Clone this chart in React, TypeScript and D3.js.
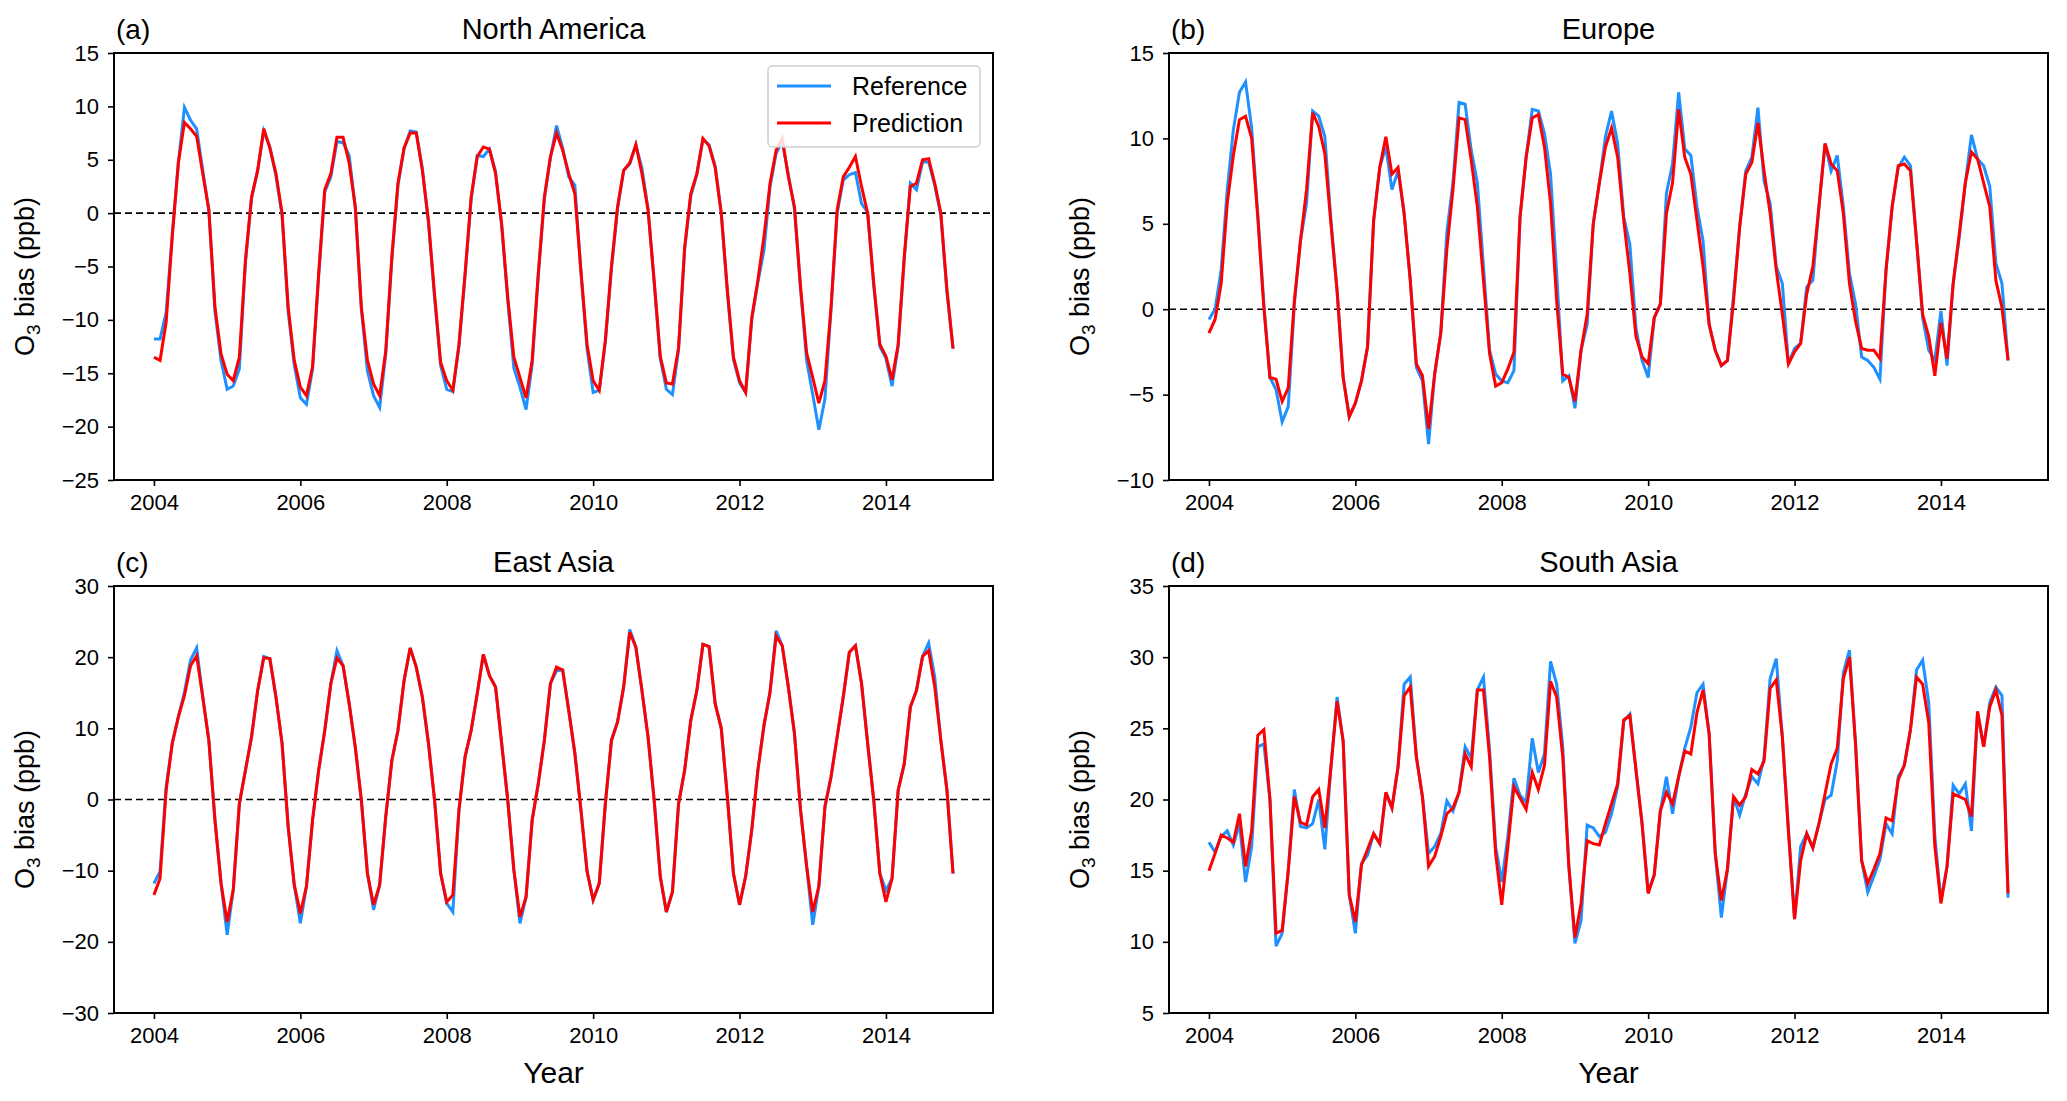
import React, { useEffect, useRef } from 'react';
import * as d3 from 'd3';

// monthly index, Jan 2004 .. Dec 2014
const months = d3.range(132).map(i => 2004 + i / 12);
const yearTicks = [2004, 2006, 2008, 2010, 2012, 2014];

const naRef = [
  -11.8, -11.8, -9.3, -2.0, 4.7, 9.9, 8.7, 7.9, 4.0, 0.3, -9.2, -13.8,
  -16.5, -16.2, -14.6, -4.6, 1.4, 4.0, 7.7, 6.2, 3.5, -0.2, -9.2, -14.2,
  -17.3, -17.9, -14.6, -5.9, 2.0, 3.4, 6.7, 6.6, 5.4, 0.6, -9.0, -14.8,
  -17.1, -18.2, -13.2, -4.3, 2.6, 6.0, 7.7, 7.6, 4.2, -0.9, -7.9, -14.3,
  -16.5, -16.7, -12.5, -5.9, 1.3, 5.4, 5.3, 6.0, 3.9, -1.2, -8.2, -14.5,
  -16.3, -18.4, -14.2, -5.9, 1.3, 5.2, 8.2, 6.1, 3.4, 2.6, -5.6, -12.7,
  -16.8, -16.6, -12.1, -5.2, 0.4, 4.0, 4.6, 6.4, 4.2, 0.4, -6.5, -13.6,
  -16.5, -17.0, -12.8, -3.4, 1.6, 3.6, 6.9, 6.4, 4.4, 0.0, -7.4, -13.7,
  -15.9, -16.8, -10.0, -6.5, -3.5, 2.5, 5.6, 6.7, 3.6, 0.4, -7.1, -13.8,
  -17.0, -20.3, -17.4, -9.0, 0.0, 3.1, 3.6, 3.8, 0.9, 0.1, -6.8, -12.5,
  -13.6, -16.2, -12.5, -4.3, 2.8, 2.2, 4.8, 4.8, 2.6, -0.2, -7.4, -12.7,
];
const naPred = [
  -13.5, -13.8, -10.2, -2.2, 4.7, 8.5, 7.9, 7.2, 3.7, 0.3, -8.8, -13.2,
  -15.1, -15.7, -13.5, -4.4, 1.5, 4.0, 7.9, 6.1, 3.7, 0.0, -8.8, -13.8,
  -16.3, -17.1, -14.4, -5.7, 2.2, 3.7, 7.1, 7.1, 4.7, 0.6, -8.8, -13.8,
  -16.0, -17.1, -12.9, -4.1, 2.8, 6.1, 7.5, 7.5, 4.0, -0.7, -7.6, -14.0,
  -15.7, -16.6, -12.3, -5.7, 1.5, 5.3, 6.2, 6.0, 3.7, -1.0, -7.9, -13.5,
  -15.4, -17.3, -13.8, -5.7, 1.5, 5.3, 7.5, 5.9, 3.7, 1.8, -5.4, -12.3,
  -15.7, -16.6, -11.9, -5.0, 0.6, 4.0, 4.7, 6.4, 3.7, 0.3, -6.3, -13.4,
  -15.9, -16.0, -12.6, -3.2, 1.8, 3.7, 7.0, 6.3, 4.3, 0.0, -7.2, -13.5,
  -15.7, -16.8, -9.8, -6.3, -2.2, 2.8, 5.9, 7.0, 3.4, 0.6, -6.9, -13.1,
  -15.4, -17.8, -15.7, -8.8, 0.3, 3.4, 4.3, 5.3, 2.5, 0.0, -6.6, -12.3,
  -13.4, -15.6, -12.3, -4.1, 2.5, 2.8, 5.0, 5.1, 2.8, 0.0, -7.2, -12.7,
];

const euRef = [
  -0.6, 0.0, 2.3, 7.0, 10.5, 12.7, 13.3, 10.6, 5.6, 0.3, -4.0, -4.7,
  -6.6, -5.7, 0.3, 4.0, 6.2, 11.6, 11.3, 10.1, 5.2, 1.1, -4.0, -6.3,
  -5.5, -4.2, -2.2, 5.2, 8.3, 9.5, 7.0, 8.1, 5.6, 1.7, -3.4, -4.2,
  -7.9, -3.8, -1.4, 4.5, 7.4, 12.1, 12.0, 9.3, 7.4, 2.5, -2.4, -3.8,
  -4.2, -4.3, -3.6, 5.4, 8.9, 11.7, 11.6, 10.3, 7.9, 2.1, -4.2, -3.9,
  -5.8, -2.4, -0.9, 5.0, 7.4, 10.1, 11.6, 9.7, 5.4, 3.8, -1.1, -3.0,
  -4.0, -0.5, 0.3, 6.8, 8.5, 12.7, 9.4, 9.0, 6.0, 4.0, -0.9, -2.4,
  -3.3, -3.0, 0.8, 4.8, 8.1, 8.9, 11.8, 7.5, 6.2, 2.5, 1.5, -3.2,
  -2.3, -2.0, 1.3, 1.7, 6.0, 9.7, 8.1, 9.0, 6.0, 2.1, 0.3, -2.8,
  -3.0, -3.4, -4.1, 2.3, 6.0, 8.3, 8.9, 8.4, 4.0, -0.5, -2.4, -3.0,
  -0.1, -3.3, 1.5, 4.2, 7.4, 10.2, 8.8, 8.4, 7.2, 2.7, 1.5, -3.0,
];
const euPred = [
  -1.4, -0.6, 1.5, 6.2, 9.0, 11.1, 11.3, 10.0, 5.4, 0.1, -4.0, -4.1,
  -5.4, -4.6, 0.5, 4.0, 7.0, 11.5, 10.7, 9.1, 5.0, 1.1, -4.0, -6.3,
  -5.5, -4.2, -2.2, 5.2, 8.3, 10.1, 7.9, 8.3, 5.6, 1.7, -3.2, -3.9,
  -7.0, -3.8, -1.4, 3.5, 7.0, 11.2, 11.1, 8.7, 6.0, 1.7, -2.6, -4.5,
  -4.3, -3.5, -2.5, 5.4, 8.9, 11.2, 11.4, 9.5, 6.2, 0.5, -3.8, -4.0,
  -5.4, -2.4, -0.3, 5.0, 7.4, 9.5, 10.6, 8.9, 5.2, 2.1, -1.6, -2.8,
  -3.2, -0.5, 0.3, 5.6, 7.4, 11.7, 8.9, 7.9, 5.2, 2.5, -0.9, -2.4,
  -3.3, -3.0, 0.5, 4.8, 7.9, 8.6, 10.9, 8.1, 5.6, 2.3, -0.3, -3.2,
  -2.5, -2.0, 0.9, 2.5, 6.0, 9.7, 8.5, 8.1, 5.6, 1.5, -0.7, -2.3,
  -2.4, -2.4, -2.9, 2.3, 6.0, 8.4, 8.5, 8.1, 4.0, -0.3, -1.6, -3.9,
  -0.8, -2.9, 1.5, 4.4, 7.4, 9.2, 8.8, 7.4, 6.0, 1.7, 0.1, -3.0,
];

const eaRef = [
  -11.8, -10.1, 1.8, 7.9, 11.6, 15.1, 19.6, 21.3, 14.4, 8.3, -2.9, -11.8,
  -19.0, -12.7, -0.6, 4.1, 8.8, 15.3, 20.1, 19.8, 14.4, 7.9, -3.8, -12.0,
  -17.4, -12.2, -2.9, 4.1, 9.7, 16.3, 20.9, 18.8, 13.5, 7.4, -0.1, -10.4,
  -15.5, -12.0, -2.4, 5.5, 9.7, 16.7, 21.3, 18.6, 14.4, 7.9, -0.1, -10.4,
  -14.6, -15.8, -1.5, 6.0, 9.7, 14.9, 20.4, 17.4, 15.8, 7.9, -0.1, -9.9,
  -17.4, -13.7, -2.9, 2.2, 8.3, 16.3, 18.1, 18.2, 12.5, 6.5, -1.5, -10.1,
  -14.1, -11.8, -0.6, 8.3, 10.9, 15.8, 23.9, 21.4, 15.3, 8.8, -0.1, -10.8,
  -15.8, -13.0, -0.6, 4.1, 11.1, 15.3, 21.8, 21.5, 13.5, 10.0, 0.4, -10.4,
  -14.8, -10.8, -4.3, 4.1, 10.4, 15.1, 23.7, 21.6, 15.8, 9.3, -1.5, -9.4,
  -17.6, -12.2, -1.0, 3.2, 8.8, 14.4, 20.7, 21.6, 16.3, 7.9, -0.1, -10.4,
  -12.8, -11.1, 1.3, 5.0, 13.0, 15.3, 20.1, 22.0, 17.2, 8.3, 1.3, -10.4,
];
const eaPred = [
  -13.4, -11.1, 1.3, 7.9, 11.6, 14.6, 18.8, 20.2, 14.4, 8.3, -2.9, -11.8,
  -17.2, -12.7, -0.6, 4.1, 8.8, 15.3, 19.9, 19.8, 14.4, 7.9, -3.8, -12.0,
  -16.0, -12.2, -2.9, 4.1, 9.7, 16.3, 19.9, 18.8, 13.5, 7.4, -0.1, -10.4,
  -14.8, -12.0, -2.4, 5.5, 9.7, 16.7, 21.3, 18.6, 14.4, 7.9, -0.1, -10.4,
  -14.4, -13.4, -1.5, 6.0, 9.7, 14.9, 20.4, 17.4, 15.8, 7.9, -0.1, -9.9,
  -16.5, -13.7, -2.9, 2.2, 8.3, 16.3, 18.6, 18.2, 12.5, 6.5, -1.5, -10.1,
  -14.1, -11.8, -0.6, 8.3, 10.9, 15.8, 23.5, 21.4, 15.3, 8.8, -0.1, -10.8,
  -15.8, -13.0, -0.6, 4.1, 11.1, 15.3, 21.8, 21.5, 13.5, 10.0, 0.4, -10.4,
  -14.8, -10.8, -4.3, 4.1, 10.4, 15.1, 23.0, 21.6, 15.8, 9.3, -1.5, -9.4,
  -15.8, -12.2, -1.0, 3.2, 8.8, 14.4, 20.7, 21.6, 16.3, 7.9, -0.1, -10.4,
  -14.4, -11.1, 1.3, 5.0, 13.0, 15.3, 20.1, 20.9, 15.8, 8.3, 1.3, -10.4,
];

const saRef = [
  17.0, 16.3, 17.4, 17.8, 16.8, 18.3, 14.2, 16.7, 23.7, 23.9, 20.0, 9.7,
  10.6, 15.0, 20.7, 18.1, 18.0, 18.3, 20.0, 16.5, 22.3, 27.2, 24.1, 13.3,
  10.6, 15.5, 16.1, 17.6, 16.9, 20.5, 19.4, 22.3, 28.1, 28.6, 23.0, 20.2,
  16.2, 16.7, 17.6, 19.9, 19.2, 20.5, 23.7, 22.9, 27.7, 28.6, 23.5, 16.7,
  14.2, 17.4, 21.5, 20.3, 19.8, 24.3, 21.9, 23.2, 29.7, 28.1, 23.7, 15.3,
  9.9, 11.5, 18.2, 18.0, 17.4, 17.7, 19.0, 20.9, 25.5, 26.0, 22.1, 18.3,
  13.5, 14.7, 19.2, 21.6, 19.0, 21.6, 23.6, 25.1, 27.5, 28.1, 24.6, 16.2,
  11.7, 15.1, 20.2, 18.9, 20.4, 21.6, 21.1, 22.9, 28.5, 29.9, 24.4, 17.8,
  11.6, 16.7, 17.6, 16.6, 18.3, 20.0, 20.3, 22.7, 28.9, 30.5, 23.9, 15.7,
  13.5, 14.6, 15.8, 18.3, 17.6, 21.6, 22.4, 24.9, 29.1, 29.8, 26.8, 17.4,
  12.9, 15.3, 21.0, 20.4, 21.1, 17.8, 26.1, 23.7, 26.8, 27.9, 27.3, 13.1,
];
const saPred = [
  15.0, 16.2, 17.5, 17.3, 17.0, 19.0, 15.3, 17.8, 24.5, 24.9, 20.0, 10.6,
  10.8, 15.0, 20.2, 18.4, 18.2, 20.2, 20.7, 18.0, 22.3, 26.9, 24.1, 13.3,
  11.4, 15.4, 16.5, 17.6, 16.9, 20.5, 19.4, 22.3, 27.3, 27.9, 23.0, 20.2,
  15.3, 16.0, 17.4, 19.0, 19.4, 20.5, 23.2, 22.3, 27.7, 27.7, 23.0, 16.2,
  12.6, 16.7, 20.9, 20.1, 19.3, 21.9, 20.7, 22.4, 28.3, 27.2, 23.0, 15.3,
  10.3, 12.7, 17.1, 16.9, 16.8, 18.3, 19.7, 21.1, 25.6, 25.9, 22.1, 18.3,
  13.4, 14.7, 19.2, 20.5, 19.7, 21.6, 23.4, 23.2, 26.1, 27.7, 24.6, 16.2,
  12.9, 15.1, 20.2, 19.6, 20.2, 22.1, 21.8, 22.7, 27.8, 28.4, 24.4, 17.8,
  11.6, 15.7, 17.6, 16.6, 18.3, 20.4, 22.5, 23.6, 28.5, 30.0, 23.9, 15.7,
  14.1, 15.1, 16.2, 18.7, 18.5, 21.4, 22.4, 24.9, 28.6, 28.1, 25.4, 16.7,
  12.7, 15.3, 20.4, 20.2, 20.0, 18.8, 26.2, 23.7, 26.5, 27.7, 25.9, 13.4,
];

const naTicks = [-25, -20, -15, -10, -5, 0, 5, 10, 15];
const euTicks = [-10, -5, 0, 5, 10, 15];
const eaTicks = [-30, -20, -10, 0, 10, 20, 30];
const saTicks = [5, 10, 15, 20, 25, 30, 35];

const FONT = '"Liberation Sans", Arial, Helvetica, sans-serif';
const REF_COLOR = '#1e90ff';
const PRED_COLOR = '#ff0000';

type PanelSpec = {
  tag: string;
  title: string;
  ref: number[];
  pred: number[];
  ticks: number[];
  left: number;
  top: number;
  legend: boolean;
  xlabel: boolean;
};

const panels: PanelSpec[] = [
  { tag: '(a)', title: 'North America', ref: naRef, pred: naPred, ticks: naTicks, left: 114, top: 53, legend: true, xlabel: false },
  { tag: '(b)', title: 'Europe', ref: euRef, pred: euPred, ticks: euTicks, left: 1169, top: 53, legend: false, xlabel: false },
  { tag: '(c)', title: 'East Asia', ref: eaRef, pred: eaPred, ticks: eaTicks, left: 114, top: 586, legend: false, xlabel: true },
  { tag: '(d)', title: 'South Asia', ref: saRef, pred: saPred, ticks: saTicks, left: 1169, top: 586, legend: false, xlabel: true },
];

const W = 2067;
const H = 1101;
const PW = 879;
const PH = 427;

const App: React.FC = () => {
  const svgRef = useRef<SVGSVGElement | null>(null);

  useEffect(() => {
    const svg = d3.select(svgRef.current).attr('width', W).attr('height', H);
    svg.selectAll('*').remove();
    svg.append('rect').attr('width', W).attr('height', H).attr('fill', 'white');

    panels.forEach(p => {
      const g = svg.append('g').attr('transform', `translate(${p.left},${p.top})`);

      // matplotlib style 5% margins on x
      const span = months[months.length - 1] - months[0];
      const x = d3.scaleLinear()
        .domain([months[0] - span * 0.05, months[months.length - 1] + span * 0.05])
        .range([0, PW]);
      const y = d3.scaleLinear()
        .domain([p.ticks[0], p.ticks[p.ticks.length - 1]])
        .range([PH, 0]);

      // zero line
      if (y.domain()[0] < 0) {
        g.append('line')
          .attr('x1', 0).attr('x2', PW)
          .attr('y1', y(0)).attr('y2', y(0))
          .attr('stroke', '#000')
          .attr('stroke-width', 1.6)
          .attr('stroke-dasharray', '7,4');
      }

      const line = d3.line<number>()
        .x((_, i) => x(months[i]))
        .y(d => y(d));

      g.append('path').datum(p.ref)
        .attr('fill', 'none').attr('stroke', REF_COLOR)
        .attr('stroke-width', 3).attr('stroke-linejoin', 'miter')
        .attr('d', line);
      g.append('path').datum(p.pred)
        .attr('fill', 'none').attr('stroke', PRED_COLOR)
        .attr('stroke-width', 3).attr('stroke-linejoin', 'miter')
        .attr('d', line);

      // axes
      const fmt = (v: d3.NumberValue) => {
        const n = +v;
        return n < 0 ? '\u2212' + Math.abs(n) : String(n);
      };
      const yAxis = g.append('g')
        .call(d3.axisLeft(y).tickValues(p.ticks).tickSize(6).tickPadding(9).tickFormat(fmt));
      const xAxis = g.append('g')
        .attr('transform', `translate(0,${PH})`)
        .call(d3.axisBottom(x).tickValues(yearTicks).tickSize(6).tickPadding(8).tickFormat(d3.format('d')));
      [xAxis, yAxis].forEach(a => {
        a.select('.domain').remove();
        a.selectAll('line').attr('stroke', '#000').attr('stroke-width', 1.6);
        a.selectAll('text')
          .attr('fill', '#000')
          .style('font-family', FONT)
          .style('font-size', '22px');
      });

      g.append('rect')
        .attr('width', PW).attr('height', PH)
        .attr('fill', 'none').attr('stroke', '#000').attr('stroke-width', 2);

      // titles
      g.append('text')
        .attr('x', 2).attr('y', -14)
        .style('font-family', FONT).style('font-size', '28px')
        .text(p.tag);
      g.append('text')
        .attr('x', PW / 2).attr('y', -14)
        .attr('text-anchor', 'middle')
        .style('font-family', FONT).style('font-size', '29px')
        .text(p.title);

      // y label
      const yl = g.append('text')
        .attr('transform', `translate(-80,${PH / 2 + 10}) rotate(-90)`)
        .attr('text-anchor', 'middle')
        .style('font-family', FONT).style('font-size', '27px');
      yl.append('tspan').text('O');
      yl.append('tspan').attr('dy', 6).style('font-size', '19px').text('3');
      yl.append('tspan').attr('dy', -6).text(' bias (ppb)');

      if (p.xlabel) {
        g.append('text')
          .attr('x', PW / 2).attr('y', PH + 70)
          .attr('text-anchor', 'middle')
          .style('font-family', FONT).style('font-size', '30px')
          .text('Year');
      }

      if (p.legend) {
        const lg = g.append('g').attr('transform', `translate(${PW - 225},13)`);
        lg.append('rect')
          .attr('width', 212).attr('height', 81).attr('rx', 4)
          .attr('fill', 'white').attr('fill-opacity', 0.85)
          .attr('stroke', '#d0d0d0').attr('stroke-width', 1.5);
        const items = [
          { label: 'Reference', color: REF_COLOR },
          { label: 'Prediction', color: PRED_COLOR },
        ];
        items.forEach((it, i) => {
          const cy = 20 + i * 37;
          lg.append('line')
            .attr('x1', 9).attr('x2', 63).attr('y1', cy).attr('y2', cy)
            .attr('stroke', it.color).attr('stroke-width', 3);
          lg.append('text')
            .attr('x', 84).attr('y', cy + 9)
            .style('font-family', FONT).style('font-size', '25px')
            .text(it.label);
        });
      }
    });
  }, []);

  return (
    <div style={{ position: 'absolute', left: 0, top: 0 }}>
      <svg ref={svgRef}></svg>
    </div>
  );
};

export default App;
